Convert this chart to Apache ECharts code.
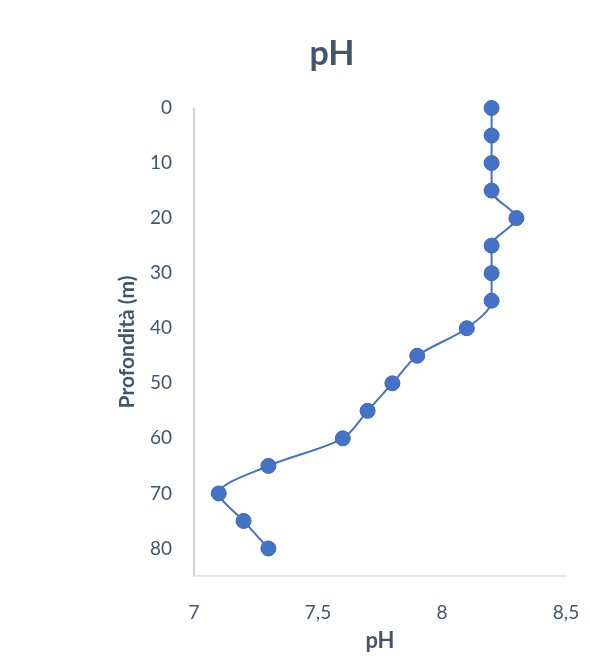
<!DOCTYPE html>
<html><head><meta charset="utf-8">
<script src="https://cdn.jsdelivr.net/npm/echarts@6/dist/echarts.min.js"></script>
<style>html,body{margin:0;padding:0;background:#fff}#c{width:590px;height:657px}</style>
</head><body><div id="c"></div>
<script>
const depths = [0,5,10,15,20,25,30,35,40,45,50,55,60,65,70,75,80];
const phValues = [8.2,8.2,8.2,8.2,8.3,8.2,8.2,8.2,8.1,7.9,7.8,7.7,7.6,7.3,7.1,7.2,7.3];
const xTicks = ['7','7,5','8','8,5'];
const titleText = 'pH';
const xName = 'pH';
const yName = 'Profondità (m)';

const txt = '#44546A';
const font = 'Lato, "Open Sans", sans-serif';
const chart = echarts.init(document.getElementById('c'));
chart.setOption({
  animation:false,
  title:{text:titleText,left:327,top:32,textAlign:'center',textStyle:{fontSize:34,fontWeight:'bold',color:txt,fontFamily:font}},
  grid:{left:194,right:24,top:108,bottom:80},
  xAxis:{type:'value',min:7,max:8.5,interval:0.5,
    axisLine:{show:true,onZero:false,lineStyle:{color:'#D9DEE8',width:1.5}},
    axisTick:{show:false},splitLine:{show:false},
    axisLabel:{margin:27,fontSize:19,color:txt,fontFamily:font,formatter:v=>{const i=Math.round((v-7)/0.5);return xTicks[i]!==undefined?xTicks[i]:'';}},
    name:xName,nameLocation:'middle',nameGap:54,nameTextStyle:{fontSize:22,fontWeight:'bold',color:txt,fontFamily:font}},
  yAxis:{type:'value',inverse:true,min:0,max:85,interval:10,
    axisLine:{show:true,onZero:false,lineStyle:{color:'#BCC6D8',width:1.5}},
    axisTick:{show:false},splitLine:{show:false},
    axisLabel:{margin:22,fontSize:19,color:txt,fontFamily:font,showMaxLabel:false,formatter:v=>v%10===0?String(v):''},
    name:yName,nameLocation:'middle',nameGap:56,nameTextStyle:{fontSize:21,fontWeight:'bold',color:txt,fontFamily:font}},
  series:[{type:'line',data:depths.map((d,i)=>[phValues[i],d]),smooth:0.3,
    symbol:'circle',symbolSize:15,
    lineStyle:{color:'#4472C4',width:2},
    itemStyle:{color:'#4472C4',borderColor:'#3D67B5',borderWidth:1}}]
});
</script></body></html>
